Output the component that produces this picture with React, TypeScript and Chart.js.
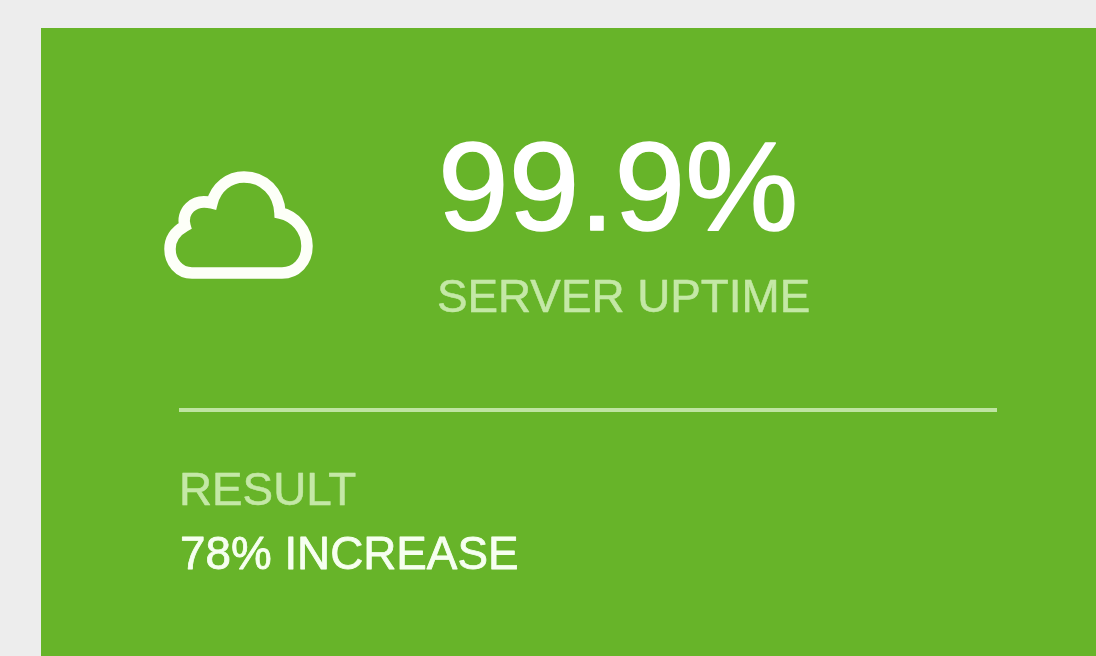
import React, { useEffect, useRef } from "react";
import { Chart, registerables, Plugin } from "chart.js";

Chart.register(...registerables);

const headlineValue = "99.9%";
const headlineLabel = "SERVER UPTIME";
const resultLabel = "RESULT";
const resultValue = "78% INCREASE";

const PAGE = "#ededed";
const CARD = "#67b429";
const WHITE = "#ffffff";
const PALE = "#c4e8a6";
const FONT = '"Liberation Sans", Arial, sans-serif';

const cardPlugin: Plugin = {
  id: "statCard",
  beforeDraw(chart) {
    const c = chart.ctx;
    c.save();
    c.fillStyle = PAGE;
    c.fillRect(0, 0, 1096, 656);
    c.fillStyle = CARD;
    c.fillRect(41, 28, 1055, 628);

    // cloud icon
    c.strokeStyle = "#fdfff8";
    c.lineWidth = 11.5;
    c.lineJoin = "miter";
    c.beginPath();
    c.moveTo(192, 273);
    c.bezierCurveTo(179, 273, 170, 262, 170, 249);
    c.bezierCurveTo(170, 239, 176, 231, 185, 226);
    c.bezierCurveTo(181, 212, 193, 198, 212, 203);
    c.bezierCurveTo(216, 187, 229, 177, 244, 177);
    c.bezierCurveTo(264, 177, 279, 192, 280, 213);
    c.bezierCurveTo(295, 216, 307, 230, 307, 246);
    c.bezierCurveTo(307, 262, 296, 273, 282, 273);
    c.closePath();
    c.stroke();

    // divider
    c.fillStyle = "#bfe4a2";
    c.fillRect(179, 408, 818, 4);

    // text
    c.textBaseline = "alphabetic";
    c.textAlign = "left";
    c.lineJoin = "round";

    c.fillStyle = WHITE;
    c.strokeStyle = WHITE;
    c.lineWidth = 1.6;
    c.font = `127px ${FONT}`;
    c.fillText(headlineValue, 438, 230);
    c.strokeText(headlineValue, 438, 230);

    c.fillStyle = PALE;
    c.strokeStyle = PALE;
    c.lineWidth = 0.5;
    c.font = `45.8px ${FONT}`;
    c.fillText(headlineLabel, 437, 312);
    c.strokeText(headlineLabel, 437, 312);
    c.fillText(resultLabel, 179, 505);
    c.strokeText(resultLabel, 179, 505);

    c.fillStyle = "#f6fff0";
    c.strokeStyle = "#f6fff0";
    c.lineWidth = 0.8;
    c.fillText(resultValue, 180, 569);
    c.strokeText(resultValue, 180, 569);
    c.restore();
  },
};

export default function App() {
  const ref = useRef<HTMLCanvasElement>(null);
  useEffect(() => {
    if (!ref.current) return;
    const chart = new Chart(ref.current, {
      type: "bar",
      data: { labels: [], datasets: [] },
      options: {
        animation: false,
        responsive: false,
        plugins: { legend: { display: false }, title: { display: false }, tooltip: { enabled: false } },
        scales: { x: { display: false }, y: { display: false } },
      },
      plugins: [cardPlugin],
    });
    return () => chart.destroy();
  }, []);
  return (
    <canvas
      ref={ref}
      width={1096}
      height={656}
      style={{ position: "fixed", left: 0, top: 0, width: 1096, height: 656, display: "block" }}
    />
  );
}
